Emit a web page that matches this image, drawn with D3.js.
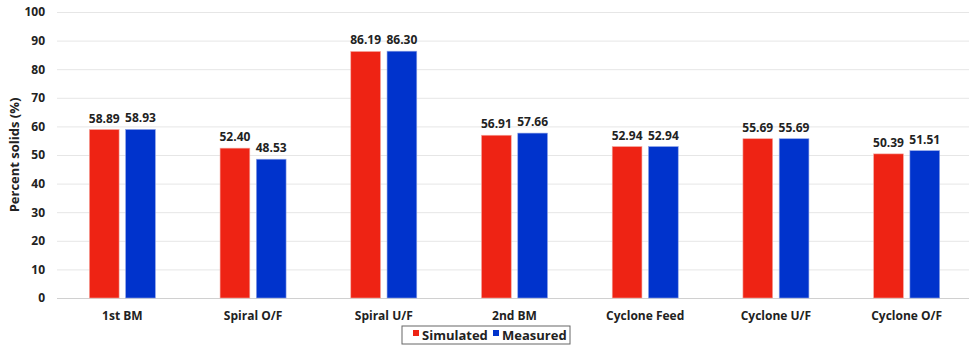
<!DOCTYPE html>
<html>
<head>
<meta charset="utf-8">
<script src="https://cdn.jsdelivr.net/npm/d3@7"></script>
<style>
  html, body { margin: 0; padding: 0; background: #fff; }
  svg { display: block; font-family: "Open Sans", "Noto Sans", sans-serif; }
</style>
</head>
<body>
<svg id="chart" width="972" height="345"></svg>
<script>
// Percent solids per stream
const categories = ["1st BM", "Spiral O/F", "Spiral U/F", "2nd BM", "Cyclone Feed", "Cyclone U/F", "Cyclone O/F"];
const simulated = [58.89, 52.40, 86.19, 56.91, 52.94, 55.69, 50.39];
const measured  = [58.93, 48.53, 86.30, 57.66, 52.94, 55.69, 51.51];
const seriesNames = ["Simulated", "Measured"];
const seriesColors = ["#ee2314", "#0033cc"];
const yTicks = [0, 10, 20, 30, 40, 50, 60, 70, 80, 90, 100];

const svg = d3.select("#chart");
const margin = { left: 57, right: 0, top: 12, bottom: 47 };
const W = 972, H = 345;

const x = d3.scaleBand().domain(categories).range([margin.left, W - margin.right]).padding(0);
const y = d3.scaleLinear().domain([0, 100]).range([H - margin.bottom, margin.top]);
const inner = d3.scaleBand().domain(seriesNames).range([-33, 33]).paddingInner(0.18).paddingOuter(0);

// horizontal grid
svg.append("g").selectAll("line").data(yTicks).join("line")
  .attr("x1", margin.left).attr("x2", W - 3)
  .attr("y1", d => y(d) + 0.5).attr("y2", d => y(d) + 0.5)
  .attr("stroke", d => d === 0 ? "#d0d0d0" : "#e6e6e6").attr("stroke-width", 1);

// y axis tick labels
const yAxis = d3.axisLeft(y).tickValues(yTicks).tickSize(0).tickPadding(12);
const gy = svg.append("g").attr("transform", `translate(${margin.left},0)`).call(yAxis);
gy.select(".domain").remove();
gy.selectAll("text").attr("font-size", 12).attr("font-weight", 700).attr("fill", "#222")
  .attr("font-family", "'Open Sans', sans-serif");

// x axis labels
const xAxis = d3.axisBottom(x).tickSize(0).tickPadding(13);
const gx = svg.append("g").attr("transform", `translate(0,${H - margin.bottom})`).call(xAxis);
gx.select(".domain").remove();
gx.selectAll("text").attr("font-size", 12).attr("font-weight", 700).attr("fill", "#222")
  .attr("font-family", "'Open Sans', sans-serif");

// y axis title
svg.append("text")
  .attr("transform", `translate(19,${(y(0) + y(100)) / 2}) rotate(-90)`)
  .attr("text-anchor", "middle")
  .attr("font-size", 13).attr("font-weight", 700).attr("fill", "#222")
  .text("Percent solids (%)");

// bars and value labels
const rows = categories.map((c, i) => ({ cat: c, vals: [simulated[i], measured[i]] }));
const groups = svg.append("g").selectAll("g").data(rows).join("g")
  .attr("transform", d => `translate(${x(d.cat) + x.bandwidth() / 2},0)`);

groups.selectAll("rect").data(d => d.vals.map((v, k) => ({ v, k }))).join("rect")
  .attr("x", d => inner(seriesNames[d.k]))
  .attr("width", inner.bandwidth())
  .attr("y", d => y(d.v))
  .attr("height", d => y(0) - y(d.v))
  .attr("fill", d => seriesColors[d.k])
  .attr("stroke", d => d.k === 0 ? "#f5a79f" : "#8fa3e6")
  .attr("stroke-width", 0.6);

groups.selectAll("text.val").data(d => d.vals.map((v, k) => ({ v, k }))).join("text")
  .attr("class", "val")
  .attr("x", d => inner(seriesNames[d.k]) + inner.bandwidth() / 2)
  .attr("y", d => y(d.v) - 7)
  .attr("text-anchor", "middle")
  .attr("font-size", 12).attr("font-weight", 700).attr("fill", "#222")
  .text(d => d.v.toFixed(2));

// legend
const lg = svg.append("g").attr("transform", "translate(402,326)");
lg.append("rect").attr("width", 168).attr("height", 18)
  .attr("fill", "#fff").attr("stroke", "#666").attr("stroke-width", 1);
const items = [{ x: 11 }, { x: 91 }];
seriesNames.forEach((n, k) => {
  lg.append("rect").attr("x", items[k].x).attr("y", 4).attr("width", 6).attr("height", 6)
    .attr("fill", seriesColors[k]);
  lg.append("text").attr("x", items[k].x + 9).attr("y", 14)
    .attr("font-size", 13).attr("font-weight", 700).attr("fill", "#222")
    .text(n);
});
</script>
</body>
</html>
